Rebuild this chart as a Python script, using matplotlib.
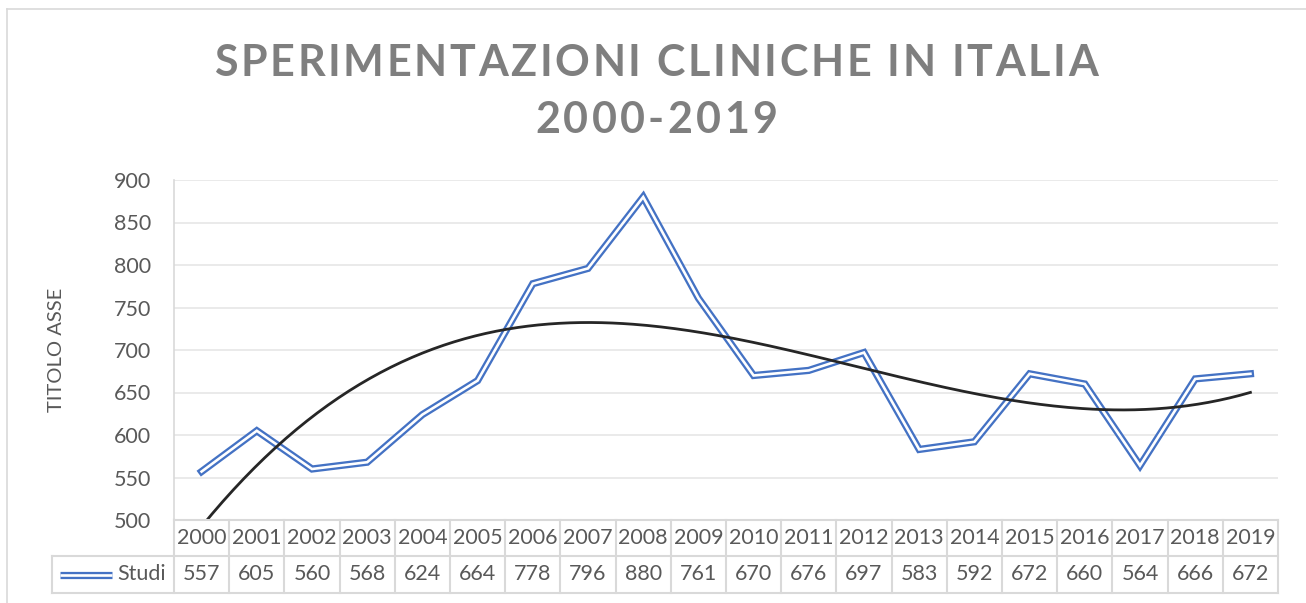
import numpy as np
import matplotlib
matplotlib.use("Agg")
import matplotlib.pyplot as plt
from matplotlib.transforms import blended_transform_factory
from matplotlib.font_manager import FontProperties
from matplotlib.lines import Line2D

years = [str(y) for y in range(2000, 2020)]
studi = [557, 605, 560, 568, 624, 664, 778, 796, 880, 761, 670, 676, 697, 583, 592, 672, 660, 564, 666, 672]
series_name = "Studi"
title_lines = ["SPERIMENTAZIONI CLINICHE IN ITALIA", "2000-2019"]
ylabel = "TITOLO ASSE"
yticks = [500, 550, 600, 650, 700, 750, 800, 850, 900]

W, H = 1306, 603
FONT = "Lato"
BLUE = "#4472c4"
GRID = "#e6e6e6"
TBL = "#d9d9d9"
TXT = "#595959"

fig = plt.figure(figsize=(W / 100, H / 100), dpi=100)
fig.patch.set_facecolor("white")

def fx(px):
    return px / W

def fy(py):
    return 1 - py / H

# chart border (left & top visible)
fig.add_artist(Line2D([fx(7), fx(7)], [fy(9), fy(H + 5)], color="#d9d9d9", lw=1.2))
fig.add_artist(Line2D([fx(7), fx(W + 5)], [fy(9), fy(9)], color="#d9d9d9", lw=1.2))

L, R, T, B = 174, 1278, 180, 520
ax = fig.add_axes([fx(L), fy(B), fx(R) - fx(L), fy(T) - fy(B)])
ax.set_xlim(-0.5, len(years) - 0.5)
ax.set_ylim(500, 900)
ax.set_yticks(yticks)
ax.set_yticklabels([str(v) for v in yticks], fontfamily=FONT, fontsize=15.5, color=TXT)
ax.tick_params(axis="y", length=0, pad=16.5)
ax.set_xticks([])
for s in ["top", "right", "bottom"]:
    ax.spines[s].set_visible(False)
ax.spines["left"].set_color(TBL)
ax.spines["left"].set_linewidth(1.2)
ax.grid(axis="y", color=GRID, lw=1.2)
ax.set_axisbelow(True)

x = np.arange(len(years))
# double (compound) line
ax.plot(x, studi, color=BLUE, lw=5.2, solid_joinstyle="miter", zorder=3)
ax.plot(x, studi, color="white", lw=1.9, solid_joinstyle="miter", zorder=4)

# polynomial trend line (order 3), as Excel computes it
coef = np.polyfit(x, studi, 3)
xs = np.linspace(0, len(years) - 1, 300)
ax.plot(xs, np.polyval(coef, xs), color="#262626", lw=2.0, zorder=5)

fig.text(fx(56), fy(350), ylabel, rotation=90, ha="center", va="center",
         fontfamily=FONT, fontsize=14.5, color=TXT)

# data table
tr = blended_transform_factory(ax.transData, fig.transFigure)
r0, r1, r2 = B, 556, 593
lk = dict(color=TBL, lw=1.5, clip_on=False)
fig.add_artist(Line2D([fx(L), fx(R)], [fy(r0), fy(r0)], **lk))
fig.add_artist(Line2D([fx(52), fx(R)], [fy(r1), fy(r1)], **lk))
fig.add_artist(Line2D([fx(52), fx(R)], [fy(r2), fy(r2)], **lk))
fig.add_artist(Line2D([fx(52), fx(52)], [fy(r1), fy(r2)], **lk))
for i in range(len(years) + 1):
    fig.add_artist(Line2D([i - 0.5, i - 0.5], [fy(r0), fy(r2)], transform=tr, **lk))
for i, (yr, v) in enumerate(zip(years, studi)):
    fig.text(i, fy((r0 + r1) / 2), yr, transform=tr, ha="center", va="center",
             fontfamily=FONT, fontsize=15.5, color=TXT)
    fig.text(i, fy((r1 + r2) / 2), str(v), transform=tr, ha="center", va="center",
             fontfamily=FONT, fontsize=15.5, color=TXT)
# legend key in table
ky = fy((r1 + r2) / 2)
fig.add_artist(Line2D([fx(60), fx(112)], [ky, ky], color=BLUE, lw=5.2, solid_capstyle="butt"))
fig.add_artist(Line2D([fx(60), fx(112)], [ky, ky], color="white", lw=1.9, solid_capstyle="butt"))
fig.text(fx(117), ky, series_name, ha="left", va="center", fontfamily=FONT, fontsize=15.5, color=TXT)

# title with letter spacing
renderer = fig.canvas.get_renderer()
def tracked(text, x0, x1, baseline, size):
    prop = FontProperties(family=FONT, weight="bold", size=size)
    widths = []
    for ch in text:
        w, h, d = renderer.get_text_width_height_descent(ch, prop, ismath=False)
        widths.append(w)
    nat = sum(widths)
    target_w = x1 - x0
    track = (target_w - nat) / (len(text) - 1)
    xpos = x0
    for ch, w in zip(text, widths):
        fig.text(fx(xpos + w / 2), fy(baseline), ch, ha="center", va="baseline",
                 fontproperties=prop, color="#7f7f7f")
        xpos += w + track

tracked(title_lines[0], 214, 1098, 75.5, 31)
tracked(title_lines[1], 535, 777, 133, 31)

fig.savefig("out.png", dpi=100, facecolor="white")
